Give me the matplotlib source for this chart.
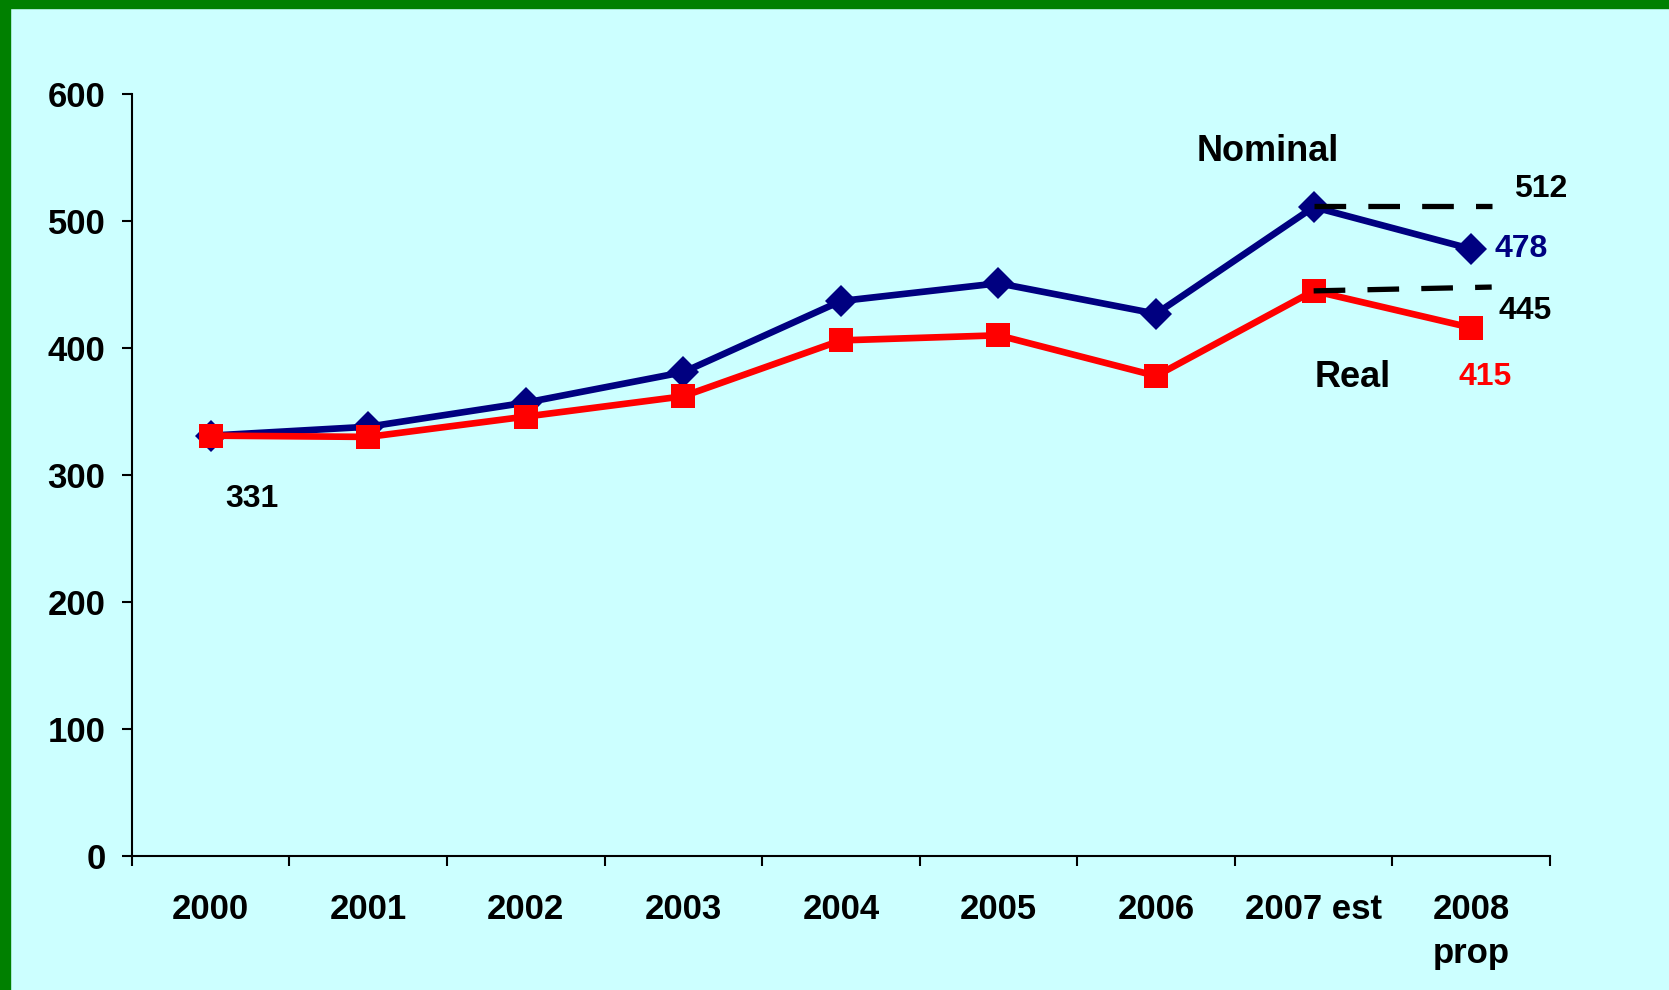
import matplotlib
matplotlib.use('Agg')
import matplotlib.pyplot as plt
from matplotlib.patches import Rectangle

years = ['2000', '2001', '2002', '2003', '2004', '2005', '2006', '2007 est', '2008\nprop']
nominal = [331, 338, 357, 381, 437, 451, 427, 511, 478]
real = [331, 330, 346, 362, 406, 410, 378, 445, 416]
# flat-line references from 2007
ref_x = [7, 8.13]
ref_nominal = [512, 512]
ref_real = [445, 448]

plt.rcParams['font.family'] = ['Liberation Sans', 'DejaVu Sans']
plt.rcParams['font.weight'] = 'bold'

bg = '#CCFFFF'
fig = plt.figure(figsize=(16.69, 9.9), dpi=100, facecolor=bg)
ax = fig.add_axes([0.079, 0.1354, 0.8497, 0.7696])
ax.set_facecolor(bg)

# green frame on top and left
fig.patches.append(Rectangle((0, 0), 10 / 1669, 1, transform=fig.transFigure, color='#008000', zorder=0))
fig.patches.append(Rectangle((0, 1 - 8 / 990), 1, 8 / 990, transform=fig.transFigure, color='#008000', zorder=0))

x = list(range(len(years)))
ax.plot(x, nominal, color='#000080', lw=4.8, marker='D', ms=16.5, mew=0, zorder=3)
ax.plot(x, real, color='#FF0000', lw=4.8, marker='s', ms=17, mew=0, zorder=4)
ax.plot(ref_x, ref_nominal, color='black', lw=3.8, dashes=(6, 4.2), zorder=5)
ax.plot(ref_x, ref_real, color='black', lw=3.8, dashes=(6, 4.2), zorder=5)

ax.set_xlim(-0.5, 8.5)
ax.set_ylim(0, 600)
ax.set_yticks(range(0, 601, 100))
ax.set_xticks(x)
ax.set_xticklabels(years, fontsize=25, fontweight='bold', linespacing=1.4)
ax.set_xticks([i - 0.5 for i in range(len(years) + 1)], minor=True)
ax.tick_params(axis='x', which='major', length=0, pad=27)
ax.tick_params(axis='x', which='minor', length=7, width=1.5, direction='out')
ax.tick_params(axis='y', length=7, width=1.5, labelsize=25, pad=12)
for lab in ax.get_yticklabels():
    lab.set_fontweight('bold')

for s in ['top', 'right']:
    ax.spines[s].set_visible(False)
for s in ['left', 'bottom']:
    ax.spines[s].set_linewidth(1.5)

kw = dict(ha='center', va='center', fontweight='bold')
ax.text(6.71, 555, 'Nominal', fontsize=26, color='black', **kw)
ax.text(7.25, 377, 'Real', fontsize=26, color='black', **kw)
ax.text(8.44, 525, '512', fontsize=23, color='black', **kw)
ax.text(8.32, 478, '478', fontsize=23, color='#000080', **kw)
ax.text(8.34, 429, '445', fontsize=23, color='black', **kw)
ax.text(8.09, 377, '415', fontsize=23, color='#FF0000', **kw)
ax.text(0.264, 281, '331', fontsize=23, color='black', **kw)

fig.savefig('out.png', dpi=100, facecolor=bg)
